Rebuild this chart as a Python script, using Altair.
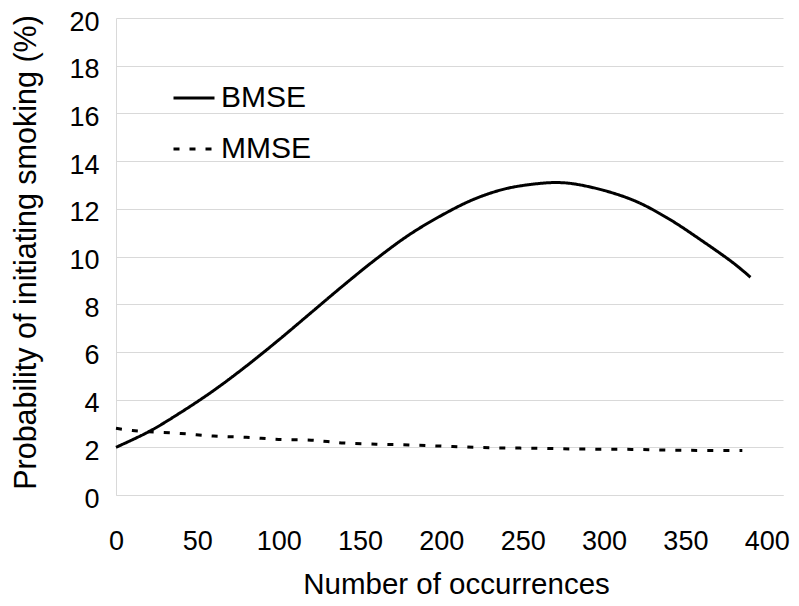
import altair as alt
import pandas as pd

# BMSE series
bmse_x = [0, 20, 40, 60, 80, 100, 120, 140, 160, 180, 200, 220, 240, 260, 270, 280, 300, 320, 340, 360, 380, 390]
bmse_y = [2.0, 2.65, 3.47, 4.38, 5.4, 6.5, 7.65, 8.8, 9.9, 10.9, 11.72, 12.4, 12.85, 13.06, 13.1, 13.06, 12.77, 12.3, 11.57, 10.67, 9.7, 9.13]

# MMSE series
mmse_x = [0, 10, 20, 40, 60, 80, 100, 120, 130, 140, 160, 180, 200, 220, 240, 260, 280, 300, 320, 340, 360, 385]
mmse_y = [2.8, 2.7, 2.65, 2.58, 2.47, 2.42, 2.33, 2.3, 2.24, 2.18, 2.13, 2.1, 2.05, 2.0, 1.97, 1.96, 1.93, 1.92, 1.91, 1.88, 1.87, 1.87]

series_names = ["BMSE", "MMSE"]
x_ticks = [0, 50, 100, 150, 200, 250, 300, 350, 400]
y_ticks = [0, 2, 4, 6, 8, 10, 12, 14, 16, 18, 20]

df = pd.concat([
    pd.DataFrame({"x": bmse_x, "y": bmse_y, "series": series_names[0]}),
    pd.DataFrame({"x": mmse_x, "y": mmse_y, "series": series_names[1]}),
])

FONT = "Liberation Sans"

chart = alt.Chart(df).mark_line(strokeWidth=3, color="black", interpolate="catmull-rom").encode(
    x=alt.X("x:Q",
            scale=alt.Scale(domain=[0, 410], nice=False, zero=False),
            axis=alt.Axis(title="Number of occurrences", values=x_ticks, grid=False,
                          ticks=False, domain=True, domainColor="#d9d9d9",
                          labelFontSize=27, labelPadding=33, titleFontSize=29.5,
                          titlePadding=16, titleFontWeight="normal", labelFlush=False,
                          titleX=340)),
    y=alt.Y("y:Q",
            scale=alt.Scale(domain=[0, 20], nice=False),
            axis=alt.Axis(title="Probability of initiating smoking (%)", values=y_ticks,
                          grid=True, gridColor="#d9d9d9", ticks=False, domain=True,
                          domainColor="#d9d9d9", labelFontSize=27, labelPadding=17,
                          labelOffset=4, titleY=234,
                          titleFontSize=30.5, titlePadding=27, titleFontWeight="normal")),
    strokeDash=alt.StrokeDash("series:N",
                              scale=alt.Scale(domain=series_names, range=[[1, 0], [6, 10]]),
                              legend=alt.Legend(title=None, orient="none", legendX=56, legendY=58,
                                                symbolType="stroke", symbolSize=1681,
                                                symbolStrokeWidth=3, symbolStrokeColor="black",
                                                labelFontSize=30, labelOffset=5, rowPadding=14,
                                                padding=0, labelFont=FONT)),
    order="x:Q",
).properties(
    width=667,
    height=477,
    autosize=alt.AutoSizeParams(type="none"),
    padding={"left": 108, "top": 10, "right": 8, "bottom": 103},
).configure(
    font=FONT,
).configure_axis(
    labelFont=FONT, titleFont=FONT, labelColor="black", titleColor="black",
).configure_view(stroke=None)

chart.save("out.html", embed_options={"renderer": "svg", "actions": False})
